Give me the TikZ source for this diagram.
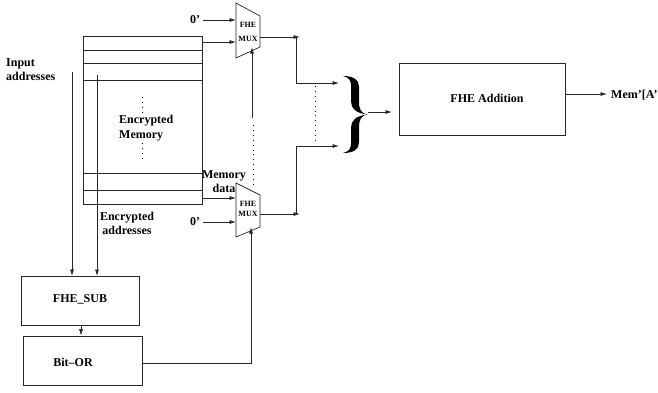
\documentclass[tikz,border=0pt]{standalone}
\usepackage{fontspec}
\setmainfont{Liberation Serif}
\usetikzlibrary{arrows.meta}
\begin{document}
\begin{tikzpicture}[x=1pt,y=-1pt,
  ln/.style={line width=0.7pt,draw=black!85},
  arr/.style={ln,-{Latex[length=6.5pt,width=4pt]}},
  dot/.style={line width=0.9pt,dash pattern=on 0.9pt off 4pt},
  lbl/.style={font=\bfseries\fontsize{12}{14}\selectfont,inner sep=0pt},
  mlbl/.style={font=\bfseries\fontsize{8}{9}\selectfont,inner sep=0pt},
  boxs/.style={ln,rectangle,inner sep=0pt}]
\useasboundingbox (0,0) rectangle (658,392);
% memory
\node[boxs,minimum width=119pt,minimum height=168pt] (mem) at (142.5,120) {};
\foreach \yy in {50,63,80,173,190} \draw[ln] (83,\yy) -- (202,\yy);
\draw[dot] (142,97) -- (142,113);
\draw[dot] (142,143) -- (142,159);
\node[lbl,anchor=west,align=left] (memtxt) at (119,128) {Encrypted\\[1pt]Memory};
% labels
\node[lbl,anchor=west,align=left] (inaddr) at (6,70) {Input\\addresses};
\node[lbl,align=center] (memdata) at (224,182) {Memory\\data};
\node[lbl,align=center] (encaddr) at (127,223) {Encrypted\\addresses};
\node[lbl] (z1) at (195,20) {0'};
\node[lbl] (z2) at (195,222) {0'};
% muxes
\draw[ln] (236,3) -- (260,16) -- (260,47) -- (236,58) -- cycle;
\node[mlbl] (mux1a) at (248,25) {FHE};
\node[mlbl] (mux1b) at (248,39) {MUX};
\draw[ln] (236,183) -- (260,195) -- (260,227) -- (236,237) -- cycle;
\node[mlbl] (mux2a) at (248,204) {FHE};
\node[mlbl] (mux2b) at (248,214) {MUX};
\coordinate (m1i1) at (236,20);
\coordinate (m1i2) at (236,42);
\coordinate (m1o) at (260,37);
\coordinate (m1s) at (252,47);
\coordinate (m2i1) at (236,198);
\coordinate (m2i2) at (236,222);
\coordinate (m2o) at (260,214);
\coordinate (m2s) at (251,227);
\draw[arr] (z1.east) ++(3,0) -- (m1i1);
\draw[arr] (202,42) -- (m1i2);
\draw[arr] (202,198) -- (m2i1);
\draw[arr] (z2.east) ++(3,0) -- (m2i2);
% boxes
\node[boxs,minimum width=118pt,minimum height=49pt] (sub) at (80,300.5) {};
\node[lbl] (subt) at (80,299) {FHE\_SUB};
\node[boxs,minimum width=119pt,minimum height=49pt] (bor) at (82.5,360.5) {};
\node[lbl] (bort) at (73,362) {Bit--OR};
\node[boxs,minimum width=166pt,minimum height=72pt] (add) at (482,99) {};
\node[lbl] (addt) at (487,98) {FHE Addition};
\node[lbl,anchor=west] (out) at (611,95) {Mem'[A'};
% address lines
\draw[arr] (72,72) -- (72,276);
\draw[arr] (97,75) -- (97,276);
\draw[arr] (sub.south -| 81,0) -- (bor.north -| 81,0);
% select lines
\draw[arr] (bor.east |- 0,363) -- (251,363) -- (m2s);
\draw[arr] (252,118) -- (m1s);
\draw[dot] (253,125) -- (253,184);
% outputs
\draw[arr] (m1o) -- (300,37);
\draw[arr] (296,37) -- (296,83) -- (339,83);
\draw[arr] (m2o) -- (300,214);
\draw[arr] (296,214) -- (296,146) -- (339,146);
\draw[dot] (315,86) -- (315,144);
% brace
\begin{scope}[shift={(368,114.5)}]
\fill (0,0) .. controls (-7,-1) and (-9,-5) .. (-9,-13) -- (-9,-28)
  .. controls (-9,-35) and (-15,-38.5) .. (-25,-38.5)
  .. controls (-19,-37) and (-17,-34) .. (-17,-29) -- (-17,-13)
  .. controls (-17,-6) and (-12,-1) .. (0,0) -- cycle;
\fill (0,0) .. controls (-7,1) and (-9,5) .. (-9,13) -- (-9,28)
  .. controls (-9,35) and (-15,38.5) .. (-25,38.5)
  .. controls (-19,37) and (-17,34) .. (-17,29) -- (-17,13)
  .. controls (-17,6) and (-12,1) .. (0,0) -- cycle;
\end{scope}
\coordinate (brace) at (368,112);
\draw[arr] (brace) -- (392,112);
\draw[arr] (add.east |- 0,94) -- (607,94);
\end{tikzpicture}
\end{document}
